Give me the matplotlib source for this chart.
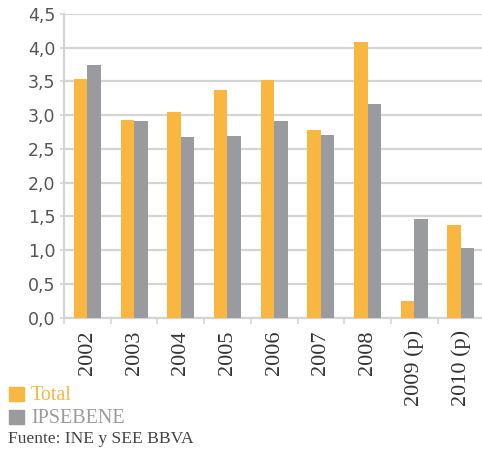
import matplotlib.pyplot as plt
import matplotlib.patches as mpatches
import numpy as np

years = ["2002", "2003", "2004", "2005", "2006", "2007", "2008", "2009 (p)", "2010 (p)"]
total = [3.54, 2.93, 3.05, 3.37, 3.52, 2.78, 4.08, 0.25, 1.37]
ipsebene = [3.74, 2.91, 2.68, 2.69, 2.91, 2.71, 3.16, 1.46, 1.03]
series_names = ["Total", "IPSEBENE"]
source = "Fuente: INE y SEE BBVA"

orange = "#F9B641"
grey = "#9A9B9F"
grid_c = "#D4D4D4"
text_c = "#555555"

W, H = 482, 450
fig = plt.figure(figsize=(W / 100, H / 100), dpi=100)
ax = fig.add_axes([64 / W, (H - 317.7) / H, 420.3 / W, 303.7 / H])

x = np.arange(len(years))
bw = 0.29
ax.bar(x - bw / 2, total, bw, color=orange, zorder=3)
ax.bar(x + bw / 2, ipsebene, bw, color=grey, zorder=3)

ax.set_xlim(-0.5, len(years) - 0.5)
ax.set_ylim(0, 4.5)
yt = np.arange(0, 4.51, 0.5)
ax.set_yticks(yt)
ax.set_yticklabels([f"{v:.1f}".replace(".", ",") for v in yt],
                   fontsize=12.5, color=text_c, family="DejaVu Sans")
ax.yaxis.grid(True, color=grid_c, linewidth=1.6, zorder=0)
ax.tick_params(axis="y", length=3, color=grid_c, width=1.2, pad=3)

ax.set_xticks(x)
ax.set_xticklabels(years, rotation=90, fontsize=16, color="#333333",
                   family="Liberation Serif", va="top")
ax.set_xticks(np.arange(-0.5, len(years), 1), minor=True)
ax.tick_params(axis="x", which="major", length=0, pad=9)
ax.tick_params(axis="x", which="minor", length=4, color=grid_c, width=1.2)

for s in ["top", "right"]:
    ax.spines[s].set_visible(False)
for s in ["left", "bottom"]:
    ax.spines[s].set_color(grid_c)
    ax.spines[s].set_linewidth(1.6)

# legend
for i, (name, col) in enumerate(zip(series_names, [orange, grey])):
    y0 = 387 + i * 22.5
    fig.patches.append(mpatches.Rectangle((9 / W, 1 - (y0 + 14) / H), 15 / W, 14 / H,
                                          transform=fig.transFigure, color=col))
    fig.text(31 / W, 1 - (y0 + 13.5) / H, name, color=col, fontsize=14.5,
             family="Liberation Serif", va="baseline", ha="left")

fig.text(8 / W, 1 - 443 / H, source, color="#444444", fontsize=12.6,
         family="Liberation Serif", va="baseline", ha="left")

fig.savefig("out.png", dpi=100)
